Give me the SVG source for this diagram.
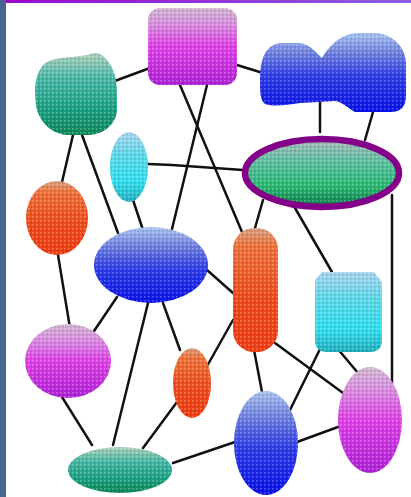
<svg xmlns="http://www.w3.org/2000/svg" width="411" height="497" viewBox="0 0 411 497">
<defs>
<style>
.edge{stroke:#111;stroke-width:2.5;fill:none;stroke-linecap:round}
.tex{fill:url(#dots)}
</style>
<pattern id="dots" width="4" height="4" patternUnits="userSpaceOnUse">
<rect x="0" y="0" width="1.6" height="1.6" fill="#ffffff" opacity="0.28"/>
<rect x="2" y="2" width="1.6" height="1.6" fill="#000000" opacity="0.12"/>
</pattern>
<linearGradient id="topline" x1="0" y1="0" x2="1" y2="0">
<stop offset="0" stop-color="#9a08d0"/><stop offset="1" stop-color="#8a60e0"/>
</linearGradient>
<linearGradient id="gMag" x1="0" y1="0" x2="0" y2="1">
<stop offset="0" stop-color="#d0b8d0"/><stop offset="0.2" stop-color="#d890e0"/><stop offset="0.5" stop-color="#e040e8"/><stop offset="1" stop-color="#b020d8"/>
</linearGradient>
<linearGradient id="gGreen" x1="0" y1="0" x2="0" y2="1">
<stop offset="0" stop-color="#b0d0b8"/><stop offset="0.3" stop-color="#48b8a8"/><stop offset="0.7" stop-color="#18a080"/><stop offset="1" stop-color="#0c8858"/>
</linearGradient>
<linearGradient id="gBlue" x1="0" y1="0" x2="0" y2="1">
<stop offset="0" stop-color="#a8c4f0"/><stop offset="0.25" stop-color="#7080e0"/><stop offset="0.55" stop-color="#2c3ce8"/><stop offset="1" stop-color="#0810ec"/>
</linearGradient>
<linearGradient id="gCyan" x1="0" y1="0" x2="0" y2="1">
<stop offset="0" stop-color="#a8d4f0"/><stop offset="0.35" stop-color="#58d8e8"/><stop offset="0.7" stop-color="#30e0f0"/><stop offset="1" stop-color="#20b0c0"/>
</linearGradient>
<linearGradient id="gOrange" x1="0" y1="0" x2="0" y2="1">
<stop offset="0" stop-color="#d8a080"/><stop offset="0.15" stop-color="#f07038"/><stop offset="0.6" stop-color="#f04818"/><stop offset="1" stop-color="#f03c10"/>
</linearGradient>
<linearGradient id="gEll" x1="0" y1="0" x2="0" y2="1">
<stop offset="0" stop-color="#a8b8b8"/><stop offset="0.35" stop-color="#58c0a0"/><stop offset="0.7" stop-color="#28b870"/><stop offset="1" stop-color="#0c7c4c"/>
</linearGradient>
</defs>

<rect x="0" y="0" width="411" height="497" fill="#ffffff"/>
<rect x="0" y="0" width="6" height="497" fill="#4a6490"/>
<rect x="6" y="0" width="405" height="3" fill="url(#topline)"/>

<g id="connectors">
<line class="edge" x1="112" y1="82" x2="150" y2="68"/>
<line class="edge" x1="237" y1="65" x2="263" y2="73"/>
<line class="edge" x1="73" y1="135" x2="62" y2="182"/>
<line class="edge" x1="82" y1="135" x2="118" y2="233"/>
<line class="edge" x1="133" y1="200" x2="143" y2="230"/>
<polyline class="edge" points="148,164 172,165 243,170"/>
<line class="edge" x1="180" y1="85" x2="242" y2="232"/>
<line class="edge" x1="207" y1="85" x2="172" y2="229"/>
<line class="edge" x1="320" y1="102" x2="320" y2="132"/>
<line class="edge" x1="373" y1="112" x2="365" y2="140"/>
<line class="edge" x1="392" y1="195" x2="392" y2="385"/>
<line class="edge" x1="263" y1="200" x2="255" y2="228"/>
<line class="edge" x1="295" y1="208" x2="332" y2="272"/>
<line class="edge" x1="58" y1="255" x2="70" y2="328"/>
<line class="edge" x1="117" y1="297" x2="90" y2="337"/>
<line class="edge" x1="148" y1="303" x2="113" y2="445"/>
<line class="edge" x1="163" y1="303" x2="180" y2="350"/>
<line class="edge" x1="207" y1="270" x2="233" y2="293"/>
<line class="edge" x1="62" y1="397" x2="92" y2="445"/>
<line class="edge" x1="177" y1="402" x2="143" y2="448"/>
<line class="edge" x1="233" y1="320" x2="206" y2="368"/>
<line class="edge" x1="173" y1="463" x2="235" y2="442"/>
<line class="edge" x1="254" y1="350" x2="262" y2="392"/>
<line class="edge" x1="275" y1="343" x2="343" y2="393"/>
<line class="edge" x1="322" y1="345" x2="290" y2="410"/>
<line class="edge" x1="337" y1="348" x2="358" y2="373"/>
<line class="edge" x1="297" y1="442" x2="338" y2="427"/>
</g>

<g id="node-magenta-top">
<rect x="148" y="8" width="89" height="77" rx="12" fill="url(#gMag)"/>
<rect class="tex" x="148" y="8" width="89" height="77" rx="12"/>
</g>
<g id="node-green-topleft">
<path d="M44,64 C52,58 62,58 72,57 L88,55 C94,52 100,52 104,57 C112,64 117,76 117,92 L117,112 C114,127 102,135 86,135 L66,135 C50,133 39,121 36,106 L35,92 C35,80 38,70 44,64 Z" fill="url(#gGreen)"/>
<path class="tex" d="M44,64 C52,58 62,58 72,57 L88,55 C94,52 100,52 104,57 C112,64 117,76 117,92 L117,112 C114,127 102,135 86,135 L66,135 C50,133 39,121 36,106 L35,92 C35,80 38,70 44,64 Z"/>
</g>
<g id="node-blue-cloud">
<path d="M260,80 C260,60 265,45 280,43 L300,43 C312,45 318,55 322,58 C330,45 340,34 358,33 L378,33 C395,36 405,48 406,62 L406,95 C406,108 400,112 390,112 L355,112 C348,108 342,102 335,101 L300,103 C285,105 275,107 265,104 C260,100 260,92 260,80 Z" fill="url(#gBlue)"/>
<path class="tex" d="M260,80 C260,60 265,45 280,43 L300,43 C312,45 318,55 322,58 C330,45 340,34 358,33 L378,33 C395,36 405,48 406,62 L406,95 C406,108 400,112 390,112 L355,112 C348,108 342,102 335,101 L300,103 C285,105 275,107 265,104 C260,100 260,92 260,80 Z"/>
</g>
<g id="node-cyan-small">
<ellipse cx="129" cy="167" rx="19" ry="35" fill="url(#gCyan)"/>
<ellipse class="tex" cx="129" cy="167" rx="19" ry="35"/>
</g>
<g id="node-orange-left">
<ellipse cx="57" cy="218" rx="31" ry="37" fill="url(#gOrange)"/>
<ellipse class="tex" cx="57" cy="218" rx="31" ry="37"/>
</g>
<g id="node-selected-ellipse">
<ellipse cx="322" cy="173" rx="77" ry="34" fill="url(#gEll)"/>
<ellipse class="tex" cx="322" cy="173" rx="77" ry="34"/>
<ellipse cx="322" cy="173" rx="77" ry="34" fill="none" stroke="#840088" stroke-width="6.5"/>
</g>
<g id="node-blue-mid">
<ellipse cx="151" cy="265" rx="57" ry="38" fill="url(#gBlue)"/>
<ellipse class="tex" cx="151" cy="265" rx="57" ry="38"/>
</g>
<g id="node-orange-pill">
<rect x="233" y="228" width="45" height="124" rx="21" fill="url(#gOrange)"/>
<rect class="tex" x="233" y="228" width="45" height="124" rx="21"/>
</g>
<g id="node-cyan-square">
<path d="M322,272 L374,272 L382,282 L382,340 C382,348 378,352 370,352 L327,352 C319,352 315,348 315,340 L315,280 Z" fill="url(#gCyan)"/>
<path class="tex" d="M322,272 L374,272 L382,282 L382,340 C382,348 378,352 370,352 L327,352 C319,352 315,348 315,340 L315,280 Z"/>
</g>
<g id="node-magenta-left">
<ellipse cx="68" cy="361" rx="43" ry="37" fill="url(#gMag)"/>
<ellipse class="tex" cx="68" cy="361" rx="43" ry="37"/>
</g>
<g id="node-orange-small">
<ellipse cx="192" cy="383" rx="19" ry="35" fill="url(#gOrange)"/>
<ellipse class="tex" cx="192" cy="383" rx="19" ry="35"/>
</g>
<g id="node-green-bottom">
<ellipse cx="120" cy="470" rx="52" ry="23" fill="url(#gGreen)"/>
<ellipse class="tex" cx="120" cy="470" rx="52" ry="23"/>
</g>
<g id="node-blue-bottom">
<ellipse cx="266" cy="443" rx="32" ry="52" fill="url(#gBlue)"/>
<ellipse class="tex" cx="266" cy="443" rx="32" ry="52"/>
</g>
<g id="node-magenta-right">
<ellipse cx="370" cy="420" rx="32" ry="53" fill="url(#gMag)"/>
<ellipse class="tex" cx="370" cy="420" rx="32" ry="53"/>
</g>
</svg>
